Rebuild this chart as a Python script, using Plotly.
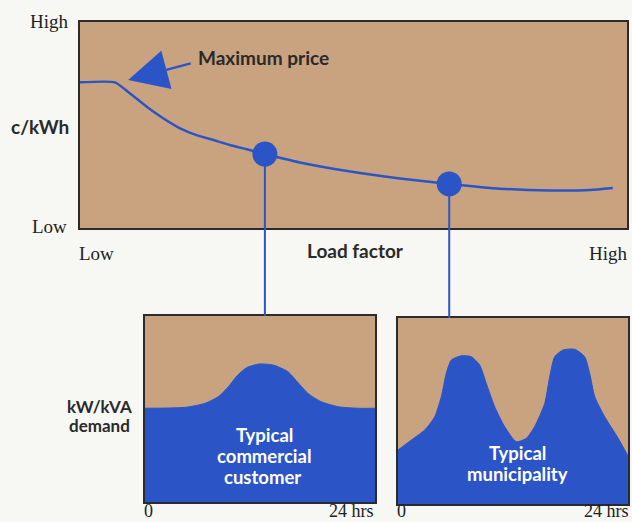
import plotly.graph_objects as go

# ---- data ----
load_factor = [0, 6.4, 9.1, 12.2, 15.2, 18.3, 21.3, 24.4, 27.4, 30.5, 33.8, 40.2, 49.4, 58.5, 67.5, 76.8, 85.9, 93.2, 97.4]
price = [70.7, 70.7, 65.4, 58.9, 53.3, 48.4, 45.1, 42.7, 40.3, 38.2, 35.9, 31.8, 27.4, 24.0, 21.4, 19.1, 18.2, 18.4, 19.4]
customer_names = ["commercial", "municipality"]
customer_load_factor = [33.8, 67.5]
customer_price = [35.9, 21.4]

hours_com = [0, 4.2, 6.3, 7.7, 8.7, 9.6, 10.6, 11.9, 13.4, 14.9, 16.0, 17.0, 18.4, 20.2, 22.3, 24]
demand_com = [50.4, 50.9, 53.1, 56.8, 62.0, 67.8, 72.2, 74.2, 73.6, 70.1, 64.0, 58.4, 53.9, 51.2, 50.4, 50.4]

hours_mun = [0, 1.39, 2.79, 3.83, 4.52, 5.04, 5.56, 6.61, 7.65, 8.53, 9.21, 10.09, 11.13, 12.34, 13.39,
             14.26, 15.31, 15.83, 16.35, 17.22, 18.44, 19.48, 20.0, 20.53, 21.57, 22.96, 24]
demand_mun = [29.0, 34.4, 39.8, 46.9, 57.7, 70.3, 77.4, 79.7, 79.2, 74.7, 64.9, 52.3, 41.6, 33.5, 35.3,
              41.6, 54.1, 68.4, 79.2, 82.8, 83.2, 79.2, 70.3, 57.7, 46.9, 35.5, 25.8]

max_price_tip = (8.8, 71.8)
max_price_tail = (20.5, 80.1)

# ---- style ----
W, H = 632, 522
TAN = "#C9A37F"
BLUE = "#2B55C6"
BORDER = "#2b2b2b"
BG = "#F7F7F4"
SERIF = "Liberation Serif"
SANS = "Lato"
DARK = "#2a2a2a"

def px_x(p):
    return p / W

def px_y(p):
    return 1 - p / H

dom_top_x = [px_x(80), px_x(627)]
dom_top_y = [px_y(228), px_y(22)]
dom_l_x = [px_x(145), px_x(375)]
dom_l_y = [px_y(502), px_y(316)]
dom_r_x = [px_x(398), px_x(628)]
dom_r_y = [px_y(504), px_y(318)]

fig = go.Figure()

fig.add_trace(go.Scatter(x=load_factor, y=price, mode="lines",
                         line=dict(color=BLUE, width=2.5, shape="spline", smoothing=0.5),
                         xaxis="x", yaxis="y", hoverinfo="skip"))
fig.add_trace(go.Scatter(x=customer_load_factor, y=customer_price, mode="markers",
                         marker=dict(color=BLUE, size=25),
                         xaxis="x", yaxis="y", hoverinfo="skip"))
fig.add_trace(go.Scatter(x=hours_com, y=demand_com, mode="lines", fill="tozeroy",
                         fillcolor=BLUE, line=dict(color=BLUE, width=1, shape="spline", smoothing=0.6),
                         xaxis="x2", yaxis="y2", hoverinfo="skip"))
fig.add_trace(go.Scatter(x=hours_mun, y=demand_mun, mode="lines", fill="tozeroy",
                         fillcolor=BLUE, line=dict(color=BLUE, width=1, shape="spline", smoothing=0.6),
                         xaxis="x3", yaxis="y3", hoverinfo="skip"))

ax_common = dict(showticklabels=False, ticks="", showgrid=False, zeroline=False,
                 showline=True, mirror=True, linecolor=BORDER, linewidth=2, fixedrange=True)

fig.update_layout(
    width=W, height=H, margin=dict(l=0, r=0, t=0, b=0),
    paper_bgcolor=BG, plot_bgcolor=TAN, showlegend=False,
    xaxis=dict(domain=dom_top_x, range=[0, 100], anchor="y", **ax_common),
    yaxis=dict(domain=dom_top_y, range=[0, 100], anchor="x", **ax_common),
    xaxis2=dict(domain=dom_l_x, range=[0, 24], anchor="y2", **ax_common),
    yaxis2=dict(domain=dom_l_y, range=[0, 100], anchor="x2", **ax_common),
    xaxis3=dict(domain=dom_r_x, range=[0, 24], anchor="y3", **ax_common),
    yaxis3=dict(domain=dom_r_y, range=[0, 100], anchor="x3", **ax_common),
)

# connector lines from dots to panels
panel_tops = [dom_l_y[1], dom_r_y[1]]
for lf, pr, top in zip(customer_load_factor, customer_price, panel_tops):
    y_paper = dom_top_y[0] + pr / 100 * (dom_top_y[1] - dom_top_y[0])
    fig.add_shape(type="line", xref="x", yref="paper", x0=lf, x1=lf, y0=y_paper, y1=top,
                  line=dict(color=BLUE, width=2), layer="above")

# arrow for maximum price
fig.add_annotation(x=max_price_tip[0], y=max_price_tip[1], ax=max_price_tail[0], ay=max_price_tail[1],
                   xref="x", yref="y", axref="x", ayref="y", text="", showarrow=True,
                   arrowhead=2, arrowsize=3.6, arrowwidth=2.2, arrowcolor=BLUE)

def label(text, x, y, size=19, family=SERIF, color="#222", xanchor="center", bold=False):
    fig.add_annotation(x=px_x(x), y=px_y(y), xref="paper", yref="paper", text=text,
                       showarrow=False, xanchor=xanchor, yanchor="middle",
                       font=dict(size=size, family=family, color=color,
                                 weight="bold" if bold else "normal"))

label("High", 71, 21, xanchor="right")
label("Low", 69, 226, xanchor="right")
label("Low", 77, 253, xanchor="left")
label("High", 630, 253, xanchor="right")
label("c/kWh", 71, 126, size=19, family=SANS, xanchor="right", bold=True, color=DARK)
label("Load factor", 355, 250, size=19, family=SANS, bold=True, color=DARK)
label("Maximum price", 196, 57, size=19, family=SANS, xanchor="left", bold=True, color=DARK)
label("kW/kVA", 99, 406, size=17, family=SANS, bold=True, color=DARK)
label("demand", 99, 425, size=17, family=SANS, bold=True, color=DARK)
label("Typical", 264, 435, size=18.5, family=SANS, bold=True, color="white")
label("commercial", 264, 456, size=18.5, family=SANS, bold=True, color="white")
label("customer", 262, 477, size=18.5, family=SANS, bold=True, color="white")
label("Typical", 517, 453, size=18.5, family=SANS, bold=True, color="white")
label("municipality", 517, 474, size=18.5, family=SANS, bold=True, color="white")
label("0", 148, 511, size=18)
label("24 hrs", 376, 511, size=18, xanchor="right")
label("0", 401, 511, size=18)
label("24 hrs", 631, 511, size=18, xanchor="right")

fig.write_html("out.html", config={"displayModeBar": False},
               post_script="document.body.style.margin='0';document.body.style.overflow='hidden';"
                           "document.documentElement.style.overflow='hidden';")
